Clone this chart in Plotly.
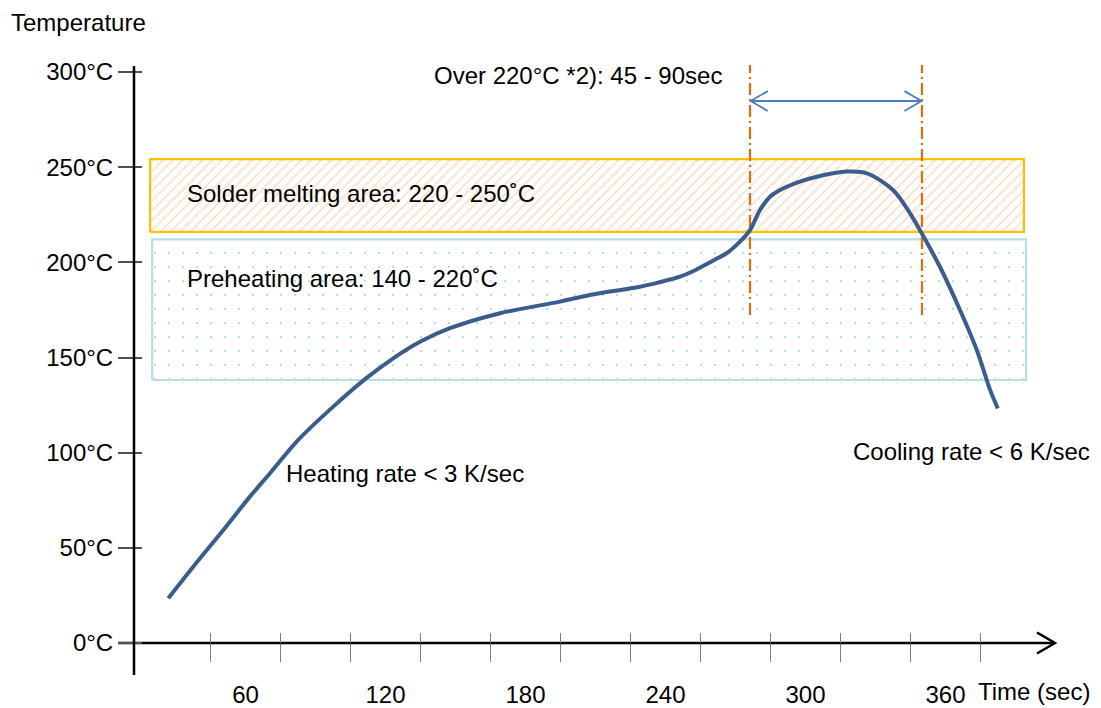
import plotly.graph_objects as go

# ---- data ----
curve_t = [26.9, 37.6, 50.5, 61.9, 70.5, 82.6, 97.6, 111.9, 123.3, 134.8, 147.6, 169.1, 194.8, 207.6,
           229.1, 237.8, 246.2, 252.0, 257.7, 262.0, 266.2, 271.9, 276.2, 280.5, 284.8, 289.1, 297.6,
           304.8, 317.7, 326.3, 337.5, 344.8, 349.8, 357.6, 366.2, 373.4, 379.1, 382.4]
curve_T = [23.5, 40.1, 59.4, 76.9, 89.2, 106.7, 124.2, 139.3, 149.6, 158.3, 165.4, 173.3, 179.4, 182.9,
           187.2, 189.7, 192.5, 195.5, 199.2, 202.0, 204.8, 210.9, 217.0, 227.5, 234.5, 238.0, 242.4,
           245.0, 247.7, 246.8, 238.0, 225.8, 215.3, 197.7, 175.0, 154.0, 133.0, 123.3]

solder_t = [19.1, 393.6]
solder_T = [216.0, 254.3]
preheat_t = [20.0, 394.5]
preheat_T = [138.2, 212.1]

over220_t = [276.2, 349.9]
over220_T = [172.4, 303.7]
arrow_T = 284.8

xlabel_vals = [60, 120, 180, 240, 300, 360]
xtick_vals = [45, 75, 105, 135, 165, 195, 225, 255, 285, 315, 345, 375]
ytick_vals = [0, 50, 100, 150, 200, 250, 300]
ytick_text = ["0°C", "50°C", "100°C", "150°C", "200°C", "250°C", "300°C"]

# ---- layout constants ----
W, H = 1085, 700
X_RANGE = [-41.79, 423.21]
Y_RANGE = [-34.16, 333.68]
YAXIS_POS = 126 / W
XAXIS_POS = (708 - 643) / H
FONT = "Liberation Sans, Arial, sans-serif"
FS = 24

fig = go.Figure()

def rect(ts, Ts):
    return [ts[0], ts[1], ts[1], ts[0], ts[0]], [Ts[0], Ts[0], Ts[1], Ts[1], Ts[0]]

# preheating band
px_, py_ = rect(preheat_t, preheat_T)
fig.add_trace(go.Scatter(x=px_, y=py_, mode="lines", fill="toself",
                         line=dict(color="#B7DEE8", width=2.2),
                         fillcolor="rgba(255,255,255,0)",
                         fillpattern=dict(shape=".", fgcolor="#A3D6E6", bgcolor="white",
                                          size=14, solidity=0.02),
                         hoverinfo="skip", showlegend=False))
# solder band
sx_, sy_ = rect(solder_t, solder_T)
fig.add_trace(go.Scatter(x=sx_, y=sy_, mode="lines", fill="toself",
                         line=dict(color="#FFC000", width=2.2),
                         fillcolor="rgba(255,255,255,0)",
                         fillpattern=dict(shape="/", fgcolor="#FCDCC4", bgcolor="white",
                                          size=7, solidity=0.22),
                         hoverinfo="skip", showlegend=False))

# orange dash-dot lines
for t in over220_t:
    fig.add_trace(go.Scatter(x=[t, t], y=over220_T, mode="lines",
                             line=dict(color="#E46C0A", width=2.2, dash="12px,4px,2px,4px"),
                             hoverinfo="skip", showlegend=False))

# blue double arrow
adx, ady = 7.3, 5.2
a0, a1 = over220_t[0] + 0.3, over220_t[1] - 0.2
fig.add_trace(go.Scatter(
    x=[a0, a1, None, a0 + adx, a0, a0 + adx, None, a1 - adx, a1, a1 - adx],
    y=[arrow_T, arrow_T, None, arrow_T + ady, arrow_T, arrow_T - ady, None, arrow_T + ady, arrow_T, arrow_T - ady],
    mode="lines", line=dict(color="#4A7EBB", width=1.8), hoverinfo="skip", showlegend=False))

# curve
fig.add_trace(go.Scatter(x=curve_t, y=curve_T, mode="lines",
                         line=dict(color="#3A5D8C", width=4, shape="spline", smoothing=0.9),
                         hoverinfo="skip", showlegend=False))

# x-axis arrow line
xa0, xa1 = 5.36, 406.9
hx, hy = 7.7, 5.5
fig.add_trace(go.Scatter(
    x=[xa0, xa1, None, xa1 - hx, xa1, xa1 - hx],
    y=[0, 0, None, hy, 0, -hy],
    mode="lines", line=dict(color="black", width=2.5), hoverinfo="skip", showlegend=False))

# dummy traces for overlay axes
fig.add_trace(go.Scatter(x=[], y=[], xaxis="x2", yaxis="y", showlegend=False))
fig.add_trace(go.Scatter(x=[], y=[], xaxis="x3", yaxis="y", showlegend=False))
fig.add_trace(go.Scatter(x=[], y=[], xaxis="x", yaxis="y2", showlegend=False))

# y-axis line
fig.add_shape(type="line", xref="paper", yref="y", x0=YAXIS_POS, x1=YAXIS_POS,
              y0=-16.8, y1=303.2, line=dict(color="black", width=2.5))

ann_font = dict(family=FONT, size=FS, color="black")
texts = [
    ("Over 220°C *2): 45 - 90sec", 140.4, 298.0),
    ("Solder melting area: 220 - 250˚C", 34.5, 236.0),
    ("Preheating area: 140 - 220˚C", 34.5, 191.8),
    ("Heating rate < 3 K/sec", 76.9, 89.3),
    ("Cooling rate < 6 K/sec", 320.0, 100.4),
    ("Time (sec)", 373.6, -25.6),
]
for txt, x, y in texts:
    fig.add_annotation(text=txt, x=x, y=y, xref="x", yref="y", xanchor="left", yanchor="middle",
                       showarrow=False, font=ann_font, borderpad=0)
fig.add_annotation(text="Temperature", x=2 / W, y=1 - 14 / H, xref="paper", yref="paper",
                   xanchor="left", yanchor="middle", showarrow=False, font=ann_font, borderpad=0)

fig.update_layout(
    width=W, height=H, template="none",
    margin=dict(l=0, r=0, t=0, b=0),
    paper_bgcolor="white", plot_bgcolor="white",
    font=dict(family=FONT, size=FS, color="black"),
    showlegend=False,
    xaxis=dict(range=X_RANGE, domain=[0, 1], anchor="free", position=XAXIS_POS,
               showgrid=False, zeroline=False, showline=False,
               tickmode="array", tickvals=xlabel_vals, ticks="", ticklen=0,
               ticklabelstandoff=35, automargin=False,
               tickfont=dict(family=FONT, size=FS, color="black")),
    xaxis2=dict(range=X_RANGE, domain=[0, 1], overlaying="x", anchor="free", position=XAXIS_POS,
                showgrid=False, zeroline=False, showline=False, showticklabels=False,
                tickmode="array", tickvals=xtick_vals, ticks="outside", ticklen=18,
                tickwidth=1.3, tickcolor="#808080", automargin=False),
    xaxis3=dict(range=X_RANGE, domain=[0, 1], overlaying="x", anchor="free", position=XAXIS_POS,
                showgrid=False, zeroline=False, showline=False, showticklabels=False,
                tickmode="array", tickvals=xtick_vals, ticks="inside", ticklen=10,
                tickwidth=1.3, tickcolor="#808080", automargin=False),
    yaxis=dict(range=Y_RANGE, domain=[0, 1], anchor="free", position=YAXIS_POS,
               showgrid=False, zeroline=False, showline=False,
               tickmode="array", tickvals=ytick_vals, ticktext=ytick_text,
               ticks="outside", ticklen=16, tickwidth=2, tickcolor="#505050",
               automargin=False, tickfont=dict(family=FONT, size=FS, color="black")),
    yaxis2=dict(range=Y_RANGE, domain=[0, 1], overlaying="y", anchor="free", position=YAXIS_POS,
                showgrid=False, zeroline=False, showline=False, showticklabels=False,
                tickmode="array", tickvals=ytick_vals, ticks="inside", ticklen=7,
                tickwidth=2, tickcolor="#505050", automargin=False),
)

fig.write_html("out.html")
